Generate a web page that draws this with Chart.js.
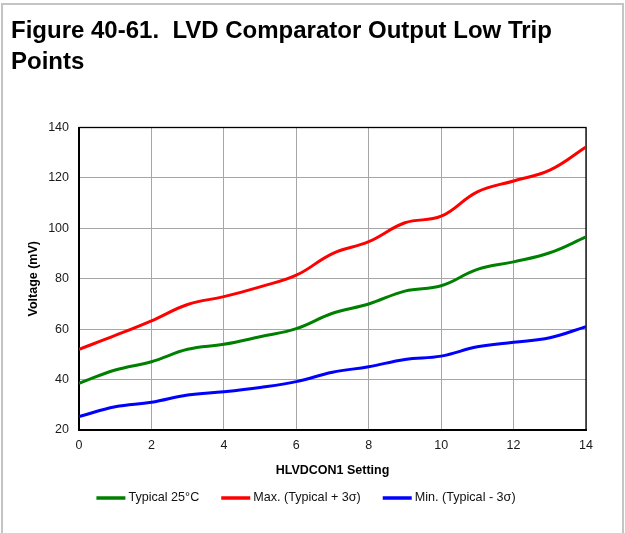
<!DOCTYPE html>
<html>
<head>
<meta charset="utf-8">
<script src="https://cdn.jsdelivr.net/npm/chart.js@4.4.1/dist/chart.umd.min.js"></script>
<style>
  html, body { margin: 0; padding: 0; background: #fff; }
  #frame {
    position: absolute; left: 1px; top: 3px; width: 619px; height: 540px;
    border: 2px solid #c4c4c4; border-bottom: none;
  }
  #wrap { position: absolute; left: 0; top: 0; width: 625px; height: 533px; }
</style>
</head>
<body>
<div id="frame"></div>
<div id="wrap"><canvas id="chart" width="625" height="533"></canvas></div>
<script>
// data
const settings = [0, 1, 2, 3, 4, 5, 6, 7, 8, 9, 10, 11, 12, 13, 14];
const typical = [38.5, 43.8, 47.1, 52, 54, 57, 60.2, 66.3, 70, 75.1, 77.2, 83.7, 86.7, 90.3, 96.6];
const maxVals = [52, 57.5, 63.3, 69.8, 72.9, 76.8, 81.4, 90, 94.7, 102.2, 104.8, 114.5, 118.8, 123.1, 132.3];
const minVals = [25.3, 29.2, 31, 33.9, 35.2, 36.9, 39.2, 42.9, 45.1, 48, 49.3, 53, 54.8, 56.6, 61];
const seriesNames = ['Typical 25°C', 'Max. (Typical + 3σ)', 'Min. (Typical - 3σ)'];
const seriesColors = ['#008000', '#ff0000', '#0000ff'];

const FONT = 'Liberation Sans, Arial, sans-serif';

function toPoints(vals) {
    return settings.map((s, i) => ({ x: s, y: vals[i] }));
}

// black box round the plot area (top/right edges are thinner)
const plotFrame = {
    id: 'plotFrame',
    beforeDatasetsDraw(chart) {
        const { ctx, chartArea: a } = chart;
        ctx.save();
        ctx.strokeStyle = '#000';
        ctx.lineWidth = 1.3;
        ctx.strokeRect(a.left, a.top, a.right - a.left, a.bottom - a.top);
        ctx.restore();
    }
};

// legend drawn by hand: short thick line then the text right after it
const lineLegend = {
    id: 'lineLegend',
    afterDraw(chart) {
        const ctx = chart.ctx;
        const sample = 29, gap = 3, spacing = 22, y = 498;
        ctx.save();
        ctx.font = '12.6px ' + FONT;
        const items = chart.data.datasets.map(ds => ({
            label: ds.label, color: ds.borderColor, w: ctx.measureText(ds.label).width
        }));
        let total = 0;
        items.forEach((it, i) => { total += sample + gap + it.w + (i < items.length - 1 ? spacing : 0); });
        let x = 306 - total / 2;
        items.forEach(it => {
            ctx.strokeStyle = it.color;
            ctx.lineWidth = 3.5;
            ctx.beginPath();
            ctx.moveTo(x, y);
            ctx.lineTo(x + sample, y);
            ctx.stroke();
            ctx.fillStyle = '#111';
            ctx.textBaseline = 'middle';
            ctx.fillText(it.label, x + sample + gap, y);
            x += sample + gap + it.w + spacing;
        });
        ctx.restore();
    }
};

const ctx1 = document.getElementById('chart').getContext('2d');
const myChart = new Chart(ctx1, {
    type: 'line',
    data: {
        datasets: [
            { label: seriesNames[0], data: toPoints(typical), borderColor: seriesColors[0] },
            { label: seriesNames[1], data: toPoints(maxVals), borderColor: seriesColors[1] },
            { label: seriesNames[2], data: toPoints(minVals), borderColor: seriesColors[2] }
        ]
    },
    options: {
        responsive: false,
        animation: false,
        devicePixelRatio: 1,
        layout: { padding: { left: 11, right: 39, top: 0, bottom: 51 } },
        elements: {
            point: { radius: 0 },
            line: { borderWidth: 3, tension: 0.4, fill: false }
        },
        plugins: {
            legend: { display: false },
            tooltip: { enabled: false },
            title: {
                display: true,
                align: 'start',
                text: ['Figure 40-61.  LVD Comparator Output Low Trip', 'Points'],
                color: '#000',
                font: { family: FONT, size: 24, weight: 'bold', lineHeight: '31px' },
                padding: { top: 16, bottom: 49.5 }
            }
        },
        scales: {
            x: {
                type: 'linear',
                min: 0, max: 14,
                afterFit(scale) { scale.height = 52; },
                grid: { color: '#a6a6a6', lineWidth: 1, drawTicks: false },
                border: { color: '#000', width: 2 },
                ticks: { stepSize: 2, padding: 8, color: '#1a1a1a', font: { family: FONT, size: 12.5 } },
                title: {
                    display: true, text: 'HLVDCON1 Setting', color: '#000',
                    font: { family: FONT, size: 12.5, weight: 'bold' }
                }
            },
            y: {
                min: 20, max: 140,
                afterFit(scale) { scale.width = 68; },
                grid: { color: '#a6a6a6', lineWidth: 1, drawTicks: false },
                border: { color: '#000', width: 2 },
                ticks: { stepSize: 20, padding: 10, color: '#1a1a1a', font: { family: FONT, size: 12.5 } },
                title: {
                    display: true, text: 'Voltage (mV)', color: '#000',
                    padding: { top: 15, bottom: 4 },
                    font: { family: FONT, size: 12.5, weight: 'bold' }
                }
            }
        }
    },
    plugins: [plotFrame, lineLegend]
});
</script>
</body>
</html>
